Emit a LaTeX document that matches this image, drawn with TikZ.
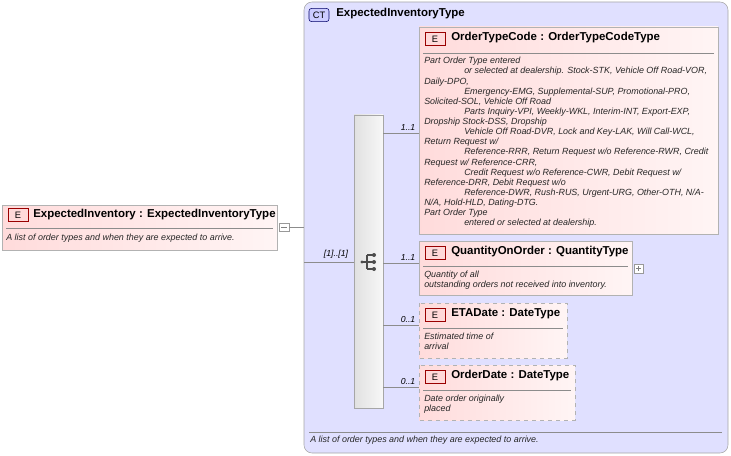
\documentclass[tikz,border=0pt]{standalone}
\usepackage{fontspec}
\setmainfont{Liberation Sans}
\usetikzlibrary{shadows}
\begin{document}
\begin{tikzpicture}[x=0.75pt,y=-0.75pt,
 el/.style={draw=black!30,left color=red!14,right color=red!4},
 eld/.style={el,dashed},
 badge/.style={draw=red!60!black,fill=red!15,font=\fontsize{7}{8}\selectfont,inner sep=0pt,minimum width=15pt,minimum height=10pt},
 hd/.style={anchor=west,font=\bfseries\fontsize{8.6}{10}\selectfont,inner sep=0pt},
 ds/.style={anchor=north west,font=\itshape\fontsize{6.7}{7.6}\selectfont,align=left,inner sep=0pt,text=black!85},
 sep/.style={draw=black!45},
 ln/.style={draw=black!45},
 card/.style={font=\itshape\fontsize{6.5}{7.5}\selectfont,inner sep=0pt}]
\useasboundingbox (0,0) rectangle (731,456);
% CT box
\draw[draw=black!35,fill=blue!12,rounded corners=6pt] (304,2) rectangle (728,453);
\node[draw=blue!40!black,fill=blue!20,rounded corners=2pt,inner sep=0pt,minimum width=15pt,minimum height=10pt,font=\fontsize{7}{8}\selectfont] (ct) at (319,15) {CT};
\node[hd] (ctn) at (336,14) {ExpectedInventoryType};
\draw[sep] (309,432) -- (722,432);
\node[ds] (ctd) at (310,436) {A list of order types and when they are expected to arrive.};
% left element
\draw[el] (2,205) rectangle (277,250);
\node[badge] (b0) at (18,215) {E};
\node[hd] (n0) at (33,215) {ExpectedInventory : ExpectedInventoryType};
\draw[sep] (6,228) -- (273,228);
\node[ds] (d0) at (6,234) {A list of order types and when they are expected to arrive.};
\draw[draw=black!40,fill=white] (279,223) rectangle (289,231);
\draw[black!50] (281,227) -- (287,227);
\coordinate (m0) at (289,227);
\coordinate (m1) at (304,227);
\draw[ln] (m0) -- (m1);
% sequence
\coordinate (s0) at (304,262);
\coordinate (s1) at (354,262);
\draw[ln] (s0) -- (s1);
\node[card,anchor=south] at (336,259) {[1]..[1]};
\draw[draw=black!35,left color=black!12,right color=black!3] (354,115) rectangle (383,408);
\draw[black!70,line width=0.8pt] (362,262) -- (367,262) (367,255) -- (367,269) (367,255)--(373,255) (367,262)--(373,262) (367,269)--(373,269);
\fill[black!70] (362,262) circle[radius=1.3pt] (374,255) circle[radius=1.5pt] (374,262) circle[radius=1.5pt] (374,269) circle[radius=1.5pt];
\foreach \y/\c in {133/1..1,263/1..1,325/0..1,387/0..1}{
  \draw[ln] (383,\y) -- (419,\y);
  \node[card,anchor=south] at (408,\y-2) {\c};
}
% OrderTypeCode
\draw[el] (419,27) rectangle (718,234);
\node[badge] at (435,39) {E};
\node[hd] at (451,38) {OrderTypeCode : OrderTypeCodeType};
\draw[sep] (423,53) -- (714,53);
\node[ds] at (424,57) {Part Order Type entered\\
\hspace*{30pt}or selected at dealership. Stock-STK, Vehicle Off Road-VOR,\\
Daily-DPO,\\
\hspace*{30pt}Emergency-EMG, Supplemental-SUP, Promotional-PRO,\\
Solicited-SOL, Vehicle Off Road\\
\hspace*{30pt}Parts Inquiry-VPI, Weekly-WKL, Interim-INT, Export-EXP,\\
Dropship Stock-DSS, Dropship\\
\hspace*{30pt}Vehicle Off Road-DVR, Lock and Key-LAK, Will Call-WCL,\\
Return Request w/\\
\hspace*{30pt}Reference-RRR, Return Request w/o Reference-RWR, Credit\\
Request w/ Reference-CRR,\\
\hspace*{30pt}Credit Request w/o Reference-CWR, Debit Request w/\\
Reference-DRR, Debit Request w/o\\
\hspace*{30pt}Reference-DWR, Rush-RUS, Urgent-URG, Other-OTH, N/A-\\
N/A, Hold-HLD, Dating-DTG.\\
Part Order Type\\
\hspace*{30pt}entered or selected at dealership.};
% QuantityOnOrder
\draw[el] (419,241) rectangle (632,295);
\node[badge] at (435,253) {E};
\node[hd] at (451,252) {QuantityOnOrder : QuantityType};
\draw[sep] (423,266) -- (628,266);
\node[ds] at (424,271) {Quantity of all\\outstanding orders not received into inventory.};
\draw[draw=black!40,fill=white] (634,264) rectangle (643,273);
\draw[black!50] (636,268.5) -- (641,268.5) (638.5,266) -- (638.5,271);
% ETADate
\draw[eld] (419,303) rectangle (567,358);
\node[badge] at (435,315) {E};
\node[hd] at (451,314) {ETADate : DateType};
\draw[sep] (423,328) -- (563,328);
\node[ds] at (424,333) {Estimated time of\\arrival};
% OrderDate
\draw[eld] (419,365) rectangle (575,420);
\node[badge] at (435,377) {E};
\node[hd] at (451,376) {OrderDate : DateType};
\draw[sep] (423,390) -- (571,390);
\node[ds] at (424,395) {Date order originally\\placed};
\end{tikzpicture}
\end{document}
